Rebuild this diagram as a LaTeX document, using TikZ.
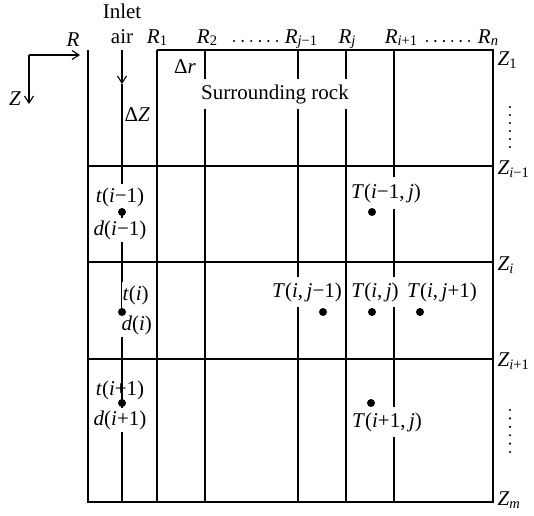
\documentclass[tikz,border=0pt]{standalone}
\usepackage{fontspec}
\setmainfont{Liberation Serif}
\usetikzlibrary{arrows.meta}
\newcommand\sbs[1]{\raisebox{-0.25ex}{\fontsize{14.5}{14.5}\selectfont #1}}
\newcommand\vi[1]{\textit{#1}}
\begin{document}
\begin{tikzpicture}[x=1pt,y=-1pt,
  font=\fontsize{21}{24}\selectfont,
  line width=1.1pt,
  grid/.style={line width=1.1pt},
  lbl/.style={fill=white,inner xsep=1pt,inner ysep=5pt},
  plain/.style={inner sep=1pt},
  bullet/.style={circle,fill=black,inner sep=0pt,minimum size=8pt},
  smalldot/.style={circle,fill=black,inner sep=0pt,minimum size=2.4pt},
  arr/.style={-{Straight Barb[length=7pt,width=9pt]}}]
\useasboundingbox (0,0) rectangle (534,515);

% axes
\coordinate (O) at (29,55);
\coordinate (Rx) at (80,55);
\coordinate (Zy) at (29,104);
\draw[arr] (O) -- (Rx);
\draw[arr] (O) -- (Zy);
\node[plain,anchor=base] (Rlab) at (73,46.5) {\vi{R}};
\node[plain] (Zlab) at (15,99) {\vi{Z}};

% grid
\coordinate (TL) at (88,50);
\coordinate (BL) at (88,502);
\coordinate (T1) at (157,50);
\coordinate (TR) at (493,50);
\coordinate (BR) at (493,502);
\draw[grid] (TL) -- (BL) -- (BR) -- (TR) -- (T1);
\foreach \x in {157,205,298,346,394}{
  \draw[grid] (\x,50) -- (\x,502);
}
\foreach \y in {166,262,359}{
  \draw[grid] (88,\y) -- (493,\y);
}
% inlet air line
\coordinate (In0) at (122,50);
\coordinate (In1) at (122,84);
\coordinate (In2) at (122,502);
\draw[arr] (In0) -- (In1);
\draw[grid] (In1) -- (In2);

% top labels
\node[plain,anchor=base] (inlet) at (122,18.5) {Inlet};
\node[plain,anchor=base] (air) at (122,43) {air};
\node[plain,anchor=base] (R1) at (157,43) {\vi{R}\sbs{1}};
\node[plain,anchor=base] (R2) at (207,43) {\vi{R}\sbs{2}};
\node[plain,anchor=base] (Rjm) at (301,43) {\vi{R}\sbs{\vi{j}−1}};
\node[plain,anchor=base] (Rj) at (347,43) {\vi{R}\sbs{\vi{j}}};
\node[plain,anchor=base] (Rip) at (401,43) {\vi{R}\sbs{\vi{i}+1}};
\node[plain,anchor=base] (Rn) at (488,43) {\vi{R}\sbs{\vi{n}}};
\foreach \k in {0,...,5}{
  \node[smalldot] (da\k) at (234+8.6*\k,41) {};
  \node[smalldot] (db\k) at (427+8.4*\k,41) {};
  \node[smalldot] (dc\k) at (510,107+8*\k) {};
  \node[smalldot] (dd\k) at (510,410+8.4*\k) {};
}

% right labels
\node[plain,anchor=west] (Z1) at (496,60) {\vi{Z}\sbs{1}};
\node[plain,anchor=west] (Zim) at (496,169) {\vi{Z}\sbs{\vi{i}−1}};
\node[plain,anchor=west] (Zi) at (496,265) {\vi{Z}\sbs{\vi{i}}};
\node[plain,anchor=west] (Zip) at (496,361) {\vi{Z}\sbs{\vi{i}+1}};
\node[plain,anchor=west] (Zm) at (496,500) {\vi{Z}\sbs{\vi{m}}};

% row 1
\node[plain] (dr) at (185,67) {Δ\vi{r}};
\node[lbl] (rock) at (275,94) {Surrounding rock};
\node[plain,anchor=west] (dZ) at (123,115) {Δ\vi{Z}};

% row 2
\node[lbl,inner ysep=3pt] (tim) at (120,197) {\vi{t}(\vi{i}−1)};
\node[lbl,inner ysep=2pt] (dim) at (120,230) {\vi{d}(\vi{i}−1)};
\node[bullet] (pim) at (122,212) {};
\node[lbl,inner ysep=6pt] (Tim) at (386,193) {\vi{T}(\vi{i}−1,\,\vi{j})};
\node[bullet] (qim) at (372,212) {};

% row 3
\node[lbl,inner ysep=3pt,anchor=west] (ti) at (121,295) {\vi{t}(\vi{i})};
\node[lbl,inner ysep=2pt,anchor=west] (di) at (120,325) {\vi{d}(\vi{i})};
\node[bullet] (pi) at (122,312) {};
\node[lbl] (Tijm) at (307,292) {\vi{T}(\vi{i},\,\vi{j}−1)};
\node[lbl] (Tij) at (375,292) {\vi{T}(\vi{i},\,\vi{j})};
\node[lbl] (Tijp) at (442,292) {\vi{T}(\vi{i},\,\vi{j}+1)};
\node[bullet] (qijm) at (323,312) {};
\node[bullet] (qij) at (372,312) {};
\node[bullet] (qijp) at (420,312) {};

% row 4
\node[plain] (tip) at (120,390) {\vi{t}(\vi{i}+1)};
\node[lbl,inner ysep=2pt] (dip) at (120,420) {\vi{d}(\vi{i}+1)};
\node[bullet] (pip) at (122,403) {};
\node[lbl] (Tip) at (387,422) {\vi{T}(\vi{i}+1,\,\vi{j})};
\node[bullet] (qip) at (371,403) {};
\end{tikzpicture}
\end{document}
